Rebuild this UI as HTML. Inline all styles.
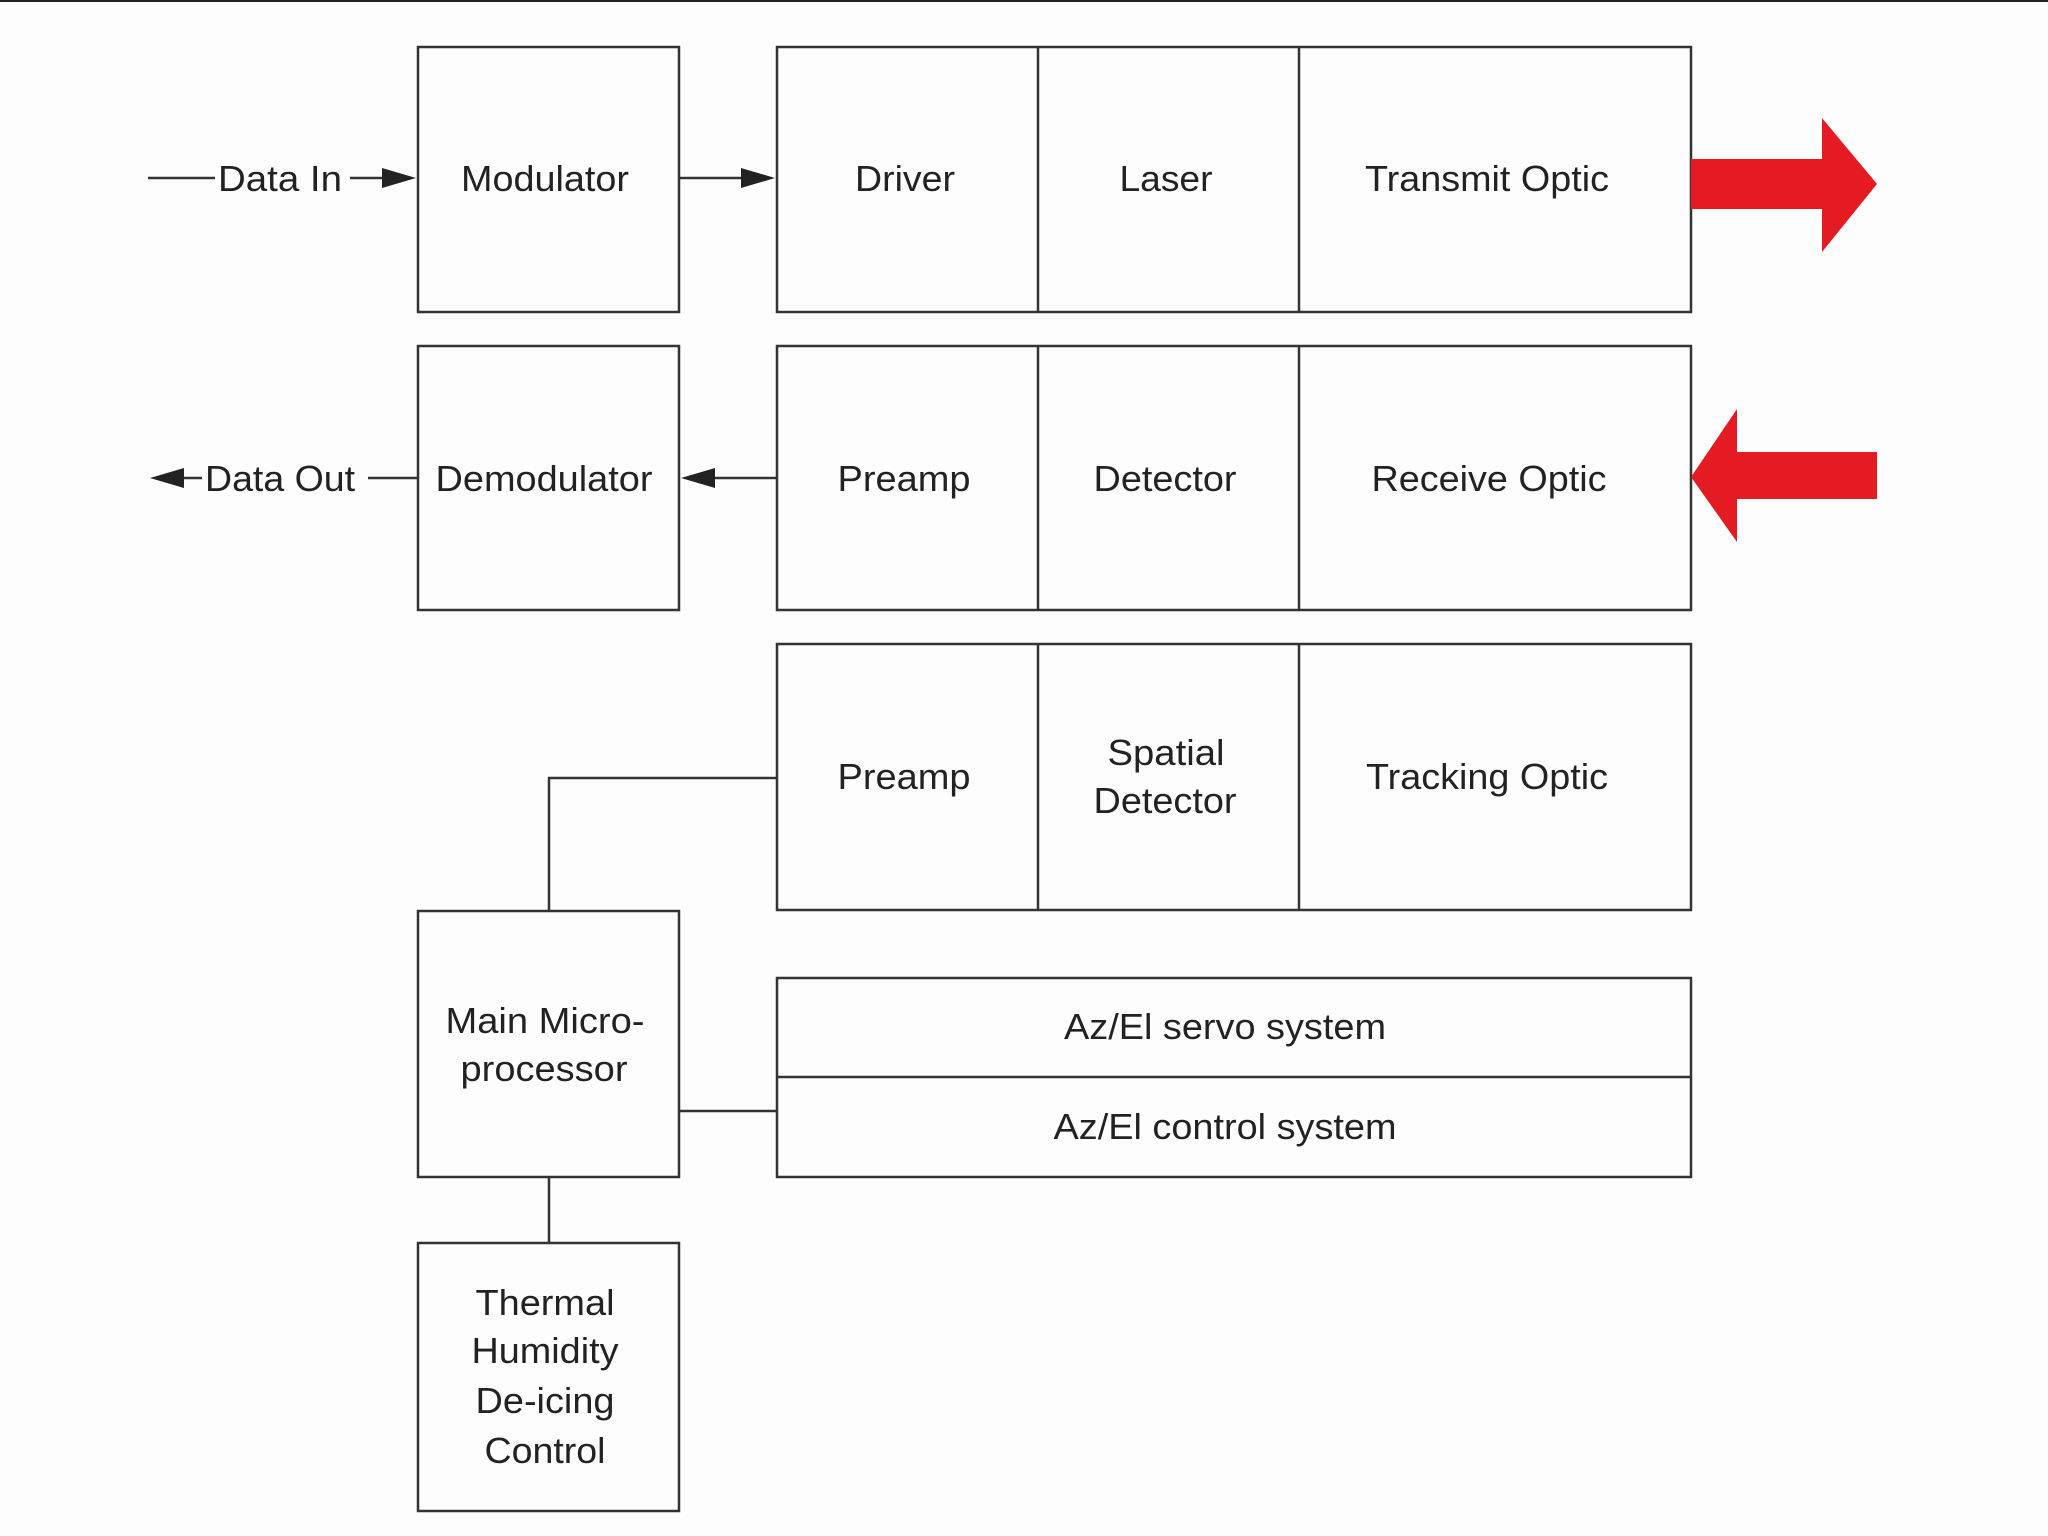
<!DOCTYPE html>
<html><head><meta charset="utf-8"><style>
html,body{margin:0;padding:0;background:#fdfdfd;}
svg{display:block;}
text{font-family:"Liberation Sans",Arial,sans-serif;font-size:36px;fill:#222;text-anchor:middle;}
</style></head><body>
<svg width="2048" height="1536" viewBox="0 0 2048 1536" xmlns="http://www.w3.org/2000/svg">
<rect width="2048" height="1536" fill="#fdfdfd"/>
<line x1="0" y1="1" x2="2048" y2="1" stroke="#222" stroke-width="2"/>
<g fill="none" stroke="#333" stroke-width="2.5">
<rect x="418" y="47" width="261" height="265"/>
<rect x="777" y="47" width="914" height="265"/>
<line x1="1038" y1="47" x2="1038" y2="312"/>
<line x1="1299" y1="47" x2="1299" y2="312"/>
<rect x="418" y="346" width="261" height="264"/>
<rect x="777" y="346" width="914" height="264"/>
<line x1="1038" y1="346" x2="1038" y2="610"/>
<line x1="1299" y1="346" x2="1299" y2="610"/>
<rect x="777" y="644" width="914" height="266"/>
<line x1="1038" y1="644" x2="1038" y2="910"/>
<line x1="1299" y1="644" x2="1299" y2="910"/>
<rect x="418" y="911" width="261" height="266"/>
<rect x="777" y="978" width="914" height="199"/>
<line x1="777" y1="1077" x2="1691" y2="1077"/>
<rect x="418" y="1243" width="261" height="268"/>
<polyline points="777,778 549,778 549,911"/>
<line x1="679" y1="1111" x2="777" y2="1111"/>
<line x1="549" y1="1177" x2="549" y2="1243"/>
<line x1="148" y1="178" x2="215" y2="178"/>
<line x1="350" y1="178" x2="390" y2="178"/>
<line x1="679" y1="178" x2="750" y2="178"/>
<line x1="172" y1="478" x2="202" y2="478"/>
<line x1="368" y1="478" x2="418" y2="478"/>
<line x1="705" y1="478" x2="777" y2="478"/>
</g>
<g fill="#222">
<polygon points="416,178 382,168 382,188"/>
<polygon points="775,178 741,168 741,188"/>
<polygon points="150,478 184,468 184,488"/>
<polygon points="681,478 715,468 715,488"/>
</g>
<polygon fill="#e41b23" points="1691,159 1822,159 1822,118 1877,184 1822,252 1822,209 1691,209"/>
<polygon fill="#e41b23" points="1691,477 1737,409 1737,452 1877,452 1877,499 1737,499 1737,542"/>
<text x="280" y="191" textLength="124" lengthAdjust="spacingAndGlyphs">Data In</text>
<text x="545" y="191" textLength="168" lengthAdjust="spacingAndGlyphs">Modulator</text>
<text x="905" y="191" textLength="100" lengthAdjust="spacingAndGlyphs">Driver</text>
<text x="1166" y="191" textLength="93" lengthAdjust="spacingAndGlyphs">Laser</text>
<text x="1487" y="191" textLength="244" lengthAdjust="spacingAndGlyphs">Transmit Optic</text>
<text x="280" y="491" textLength="150" lengthAdjust="spacingAndGlyphs">Data Out</text>
<text x="544" y="491" textLength="217" lengthAdjust="spacingAndGlyphs">Demodulator</text>
<text x="904" y="491" textLength="133" lengthAdjust="spacingAndGlyphs">Preamp</text>
<text x="1165" y="491" textLength="143" lengthAdjust="spacingAndGlyphs">Detector</text>
<text x="1489" y="491" textLength="235" lengthAdjust="spacingAndGlyphs">Receive Optic</text>
<text x="904" y="789" textLength="133" lengthAdjust="spacingAndGlyphs">Preamp</text>
<text x="1166" y="765" textLength="117" lengthAdjust="spacingAndGlyphs">Spatial</text>
<text x="1165" y="813" textLength="143" lengthAdjust="spacingAndGlyphs">Detector</text>
<text x="1487" y="789" textLength="242" lengthAdjust="spacingAndGlyphs">Tracking Optic</text>
<text x="545" y="1033" textLength="199" lengthAdjust="spacingAndGlyphs">Main Micro-</text>
<text x="544" y="1081" textLength="167" lengthAdjust="spacingAndGlyphs">processor</text>
<text x="1225" y="1039" textLength="322" lengthAdjust="spacingAndGlyphs">Az/El servo system</text>
<text x="1225" y="1139" textLength="343" lengthAdjust="spacingAndGlyphs">Az/El control system</text>
<text x="545" y="1315" textLength="139" lengthAdjust="spacingAndGlyphs">Thermal</text>
<text x="545" y="1363" textLength="147" lengthAdjust="spacingAndGlyphs">Humidity</text>
<text x="545" y="1413" textLength="139" lengthAdjust="spacingAndGlyphs">De-icing</text>
<text x="545" y="1463" textLength="121" lengthAdjust="spacingAndGlyphs">Control</text>
</svg>
</body></html>
